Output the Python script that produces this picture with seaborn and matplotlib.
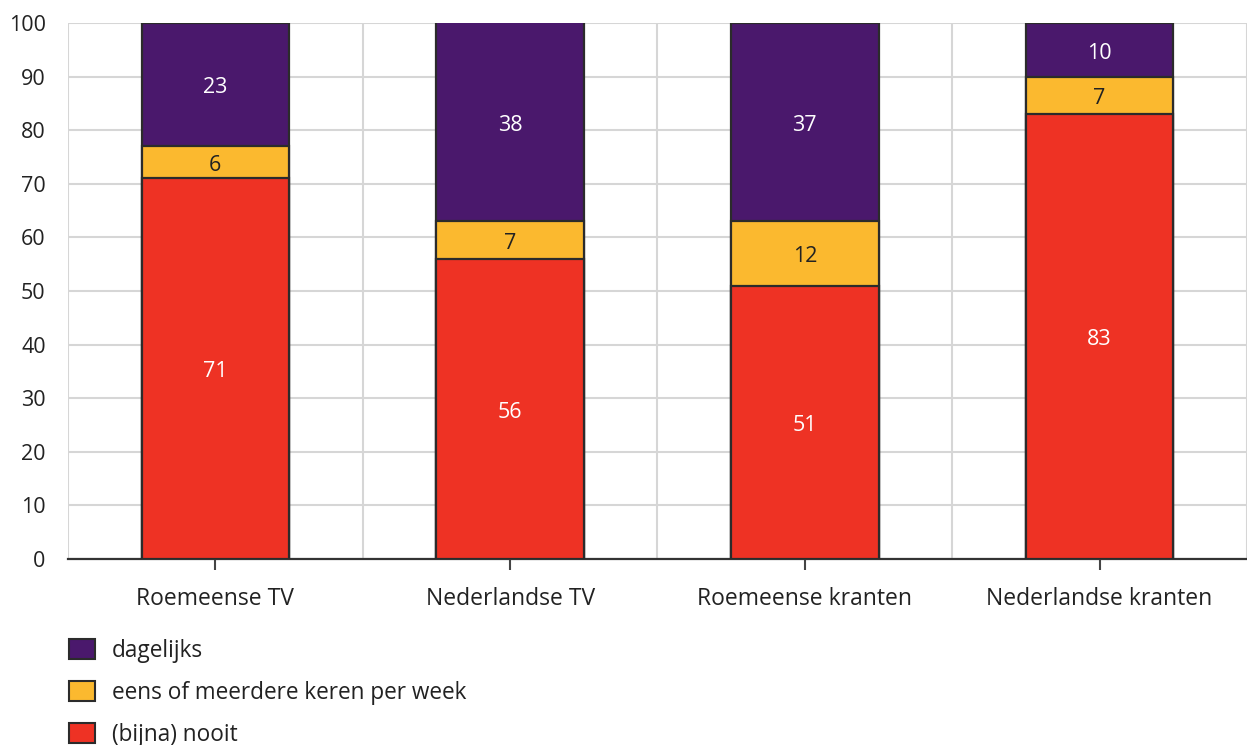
import numpy as np
import pandas as pd
import matplotlib
matplotlib.use("Agg")
import matplotlib.pyplot as plt
from matplotlib.patches import Patch
import seaborn as sns

categories = ["Roemeense TV", "Nederlandse TV", "Roemeense kranten", "Nederlandse kranten"]
nooit = [71, 56, 51, 83]
wekelijks = [6, 7, 12, 7]
dagelijks = [23, 38, 37, 10]
series_names = ["dagelijks", "eens of meerdere keren per week", "(bijna) nooit"]
yticks = list(range(0, 101, 10))

c_purple = "#4a186c"
c_yellow = "#fbb92f"
c_red = "#ee3224"
edge = "#2b2b2b"
grid_c = "#d6d6d6"
text_c = "#222222"

sns.set_theme(style="white")
plt.rcParams["font.family"] = ["Open Sans", "DejaVu Sans"]

fig = plt.figure(figsize=(12.47, 7.45), dpi=100)
ax = fig.add_axes([0.0545, 0.2497, 0.9455, 0.7194])

n = np.array(nooit)
w = np.array(wekelijks)
d = np.array(dagelijks)
cum1 = n
cum2 = n + w
cum3 = n + w + d

df = pd.DataFrame({"cat": categories, "c1": cum1, "c2": cum2, "c3": cum3})

for col, colr in [("c3", c_purple), ("c2", c_yellow), ("c1", c_red)]:
    sns.barplot(data=df, x="cat", y=col, color=colr, saturation=1, width=0.5,
                edgecolor=edge, linewidth=1.6, ax=ax, zorder=3)

ax.set_ylim(0, 100)
ax.set_xlim(-0.5, 3.5)
ax.set_yticks(yticks)
ax.set_yticklabels([str(t) for t in yticks], fontsize=15.5, color=text_c)
ax.set_xticks(range(len(categories)))
ax.set_xticklabels(categories, fontsize=16.5, color=text_c)
ax.set_xticks([-0.5, 0.5, 1.5, 2.5, 3.5], minor=True)
ax.tick_params(axis="y", length=0, pad=16)
ax.tick_params(axis="x", which="major", length=8, width=1.5, color="#444444", direction="out", pad=12, bottom=True)
ax.tick_params(axis="x", which="minor", length=0)
ax.grid(axis="y", which="major", color=grid_c, linewidth=1.5, zorder=0)
ax.grid(axis="x", which="minor", color=grid_c, linewidth=1.5, zorder=0)
ax.grid(axis="x", which="major", visible=False)
ax.set_axisbelow(True)
ax.set_xlabel("")
ax.set_ylabel("")
for s in ["top", "right", "left"]:
    ax.spines[s].set_visible(False)
ax.spines["bottom"].set_color("#333333")
ax.spines["bottom"].set_linewidth(1.6)

for i in range(len(categories)):
    segs = [(0, cum1[i], str(nooit[i]), "white"),
            (cum1[i], cum2[i], str(wekelijks[i]), text_c),
            (cum2[i], min(cum3[i], 100), str(dagelijks[i]), "white")]
    for lo, hi, lab, tc in segs:
        ax.text(i, (lo + hi) / 2 - 0.6, lab, ha="center", va="center", fontsize=15.5, color=tc, zorder=5)

handles = [Patch(facecolor=c_purple, edgecolor=edge, linewidth=1.5),
           Patch(facecolor=c_yellow, edgecolor=edge, linewidth=1.5),
           Patch(facecolor=c_red, edgecolor=edge, linewidth=1.5)]
fig.legend(handles, series_names, loc="upper left", bbox_to_anchor=(0.039, 0.17),
           frameon=False, fontsize=16.3, handlelength=1.15, handleheight=1.0,
           labelspacing=0.8, handletextpad=0.75, labelcolor=text_c)

fig.savefig("out.png", dpi=100)
